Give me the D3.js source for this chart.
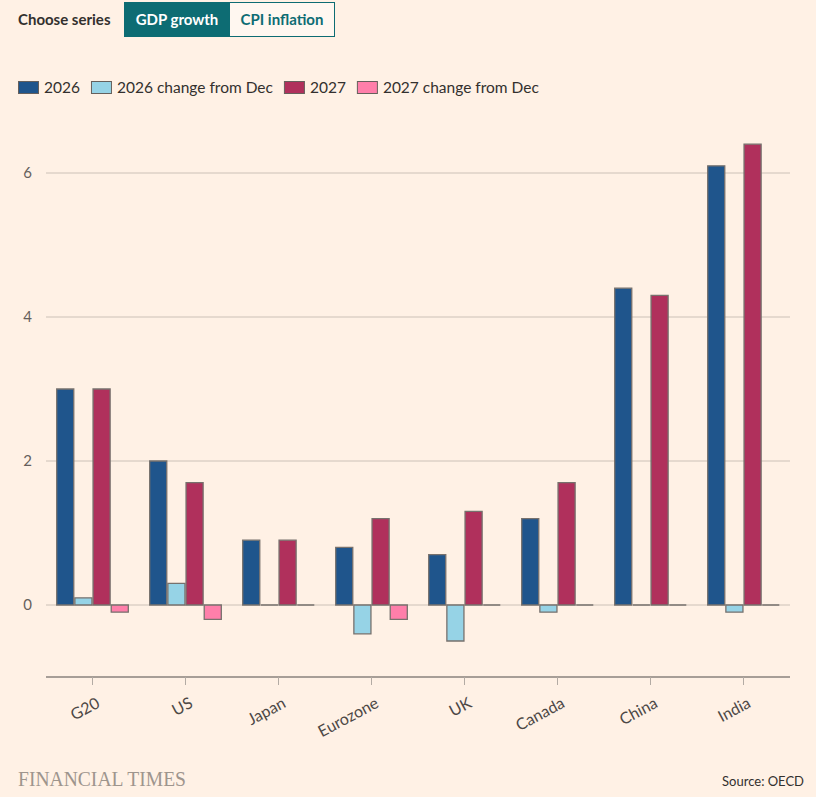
<!DOCTYPE html>
<html>
<head>
<meta charset="utf-8">
<script src="https://cdn.jsdelivr.net/npm/d3@7"></script>
<style>
  body { margin: 0; background: #fff1e5; }
  svg { display: block; font-family: Lato, "Noto Sans", sans-serif; }
</style>
</head>
<body>
<div id="chart"></div>
<script>
// data
var countries = ['G20', 'US', 'Japan', 'Eurozone', 'UK', 'Canada', 'China', 'India']
var seriesNames = ['2026', '2026 change from Dec', '2027', '2027 change from Dec']
var gdp2026 = [3.0, 2.0, 0.9, 0.8, 0.7, 1.2, 4.4, 6.1]
var change2026 = [0.1, 0.3, 0.0, -0.4, -0.5, -0.1, 0.0, -0.1]
var gdp2027 = [3.0, 1.7, 0.9, 1.2, 1.3, 1.7, 4.3, 6.4]
var change2027 = [-0.1, -0.2, 0.0, -0.2, 0.0, 0.0, 0.0, 0.0]
var yTicks = [0, 2, 4, 6]
var buttons = ['GDP growth', 'CPI inflation']

var colours = ['#1f558c', '#96d3e6', '#b0305c', '#ff7faa']
var allSeries = [gdp2026, change2026, gdp2027, change2027]

var W = 816, H = 797
var svg = d3.select('#chart').append('svg')
    .attr('width', W)
    .attr('height', H)

svg.append('rect').attr('width', W).attr('height', H).attr('fill', '#fff1e5')

// series switch
svg.append('text')
    .attr('x', 18).attr('y', 25)
    .attr('font-size', 15).attr('font-weight', 700)
    .attr('fill', '#33302e')
    .text('Choose series')

var btn = svg.selectAll('g.btn').data(buttons).enter().append('g')
    .attr('transform', (d, i) => 'translate(' + (124 + i * 105) + ',2)')
btn.append('rect')
    .attr('x', 0.5).attr('y', 0.5)
    .attr('width', 105).attr('height', 34)
    .attr('fill', (d, i) => i == 0 ? '#0d6c73' : '#fff7f0')
    .attr('stroke', '#0d6c73')
btn.append('text')
    .attr('x', 53).attr('y', 23)
    .attr('text-anchor', 'middle')
    .attr('font-size', 15).attr('font-weight', 700)
    .attr('fill', (d, i) => i == 0 ? '#ffffff' : '#0d6c73')
    .text(d => d)

// legend
var legend = svg.append('g').attr('transform', 'translate(18,80)')
var lx = 0
seriesNames.forEach((name, i) => {
    var g = legend.append('g').attr('transform', 'translate(' + lx + ',0)')
    g.append('rect')
        .attr('x', 0.5).attr('y', 1.5)
        .attr('width', 20).attr('height', 12)
        .attr('fill', colours[i])
        .attr('stroke', '#66605c')
    var t = g.append('text')
        .attr('x', 26).attr('y', 13)
        .attr('font-size', 15.5)
        .attr('fill', '#33302e')
        .text(name)
    lx += 26 + t.node().getComputedTextLength() + 11
})

// scales
var margin = {left: 46, right: 26}
var x0 = d3.scaleBand()
    .domain(countries)
    .range([margin.left, W - margin.right])
    .paddingInner(0.23)
    .paddingOuter(0.115)
var x1 = d3.scaleBand()
    .domain(d3.range(4))
    .range([0, x0.bandwidth()])
    .paddingInner(0.06)
var y = d3.scaleLinear()
    .domain([-1, 6.4])
    .range([677, 144.2])

// grid
svg.append('g').selectAll('line').data(yTicks).enter().append('line')
    .attr('x1', margin.left).attr('x2', W - margin.right)
    .attr('y1', d => y(d)).attr('y2', d => y(d))
    .attr('stroke', '#ccc1b7')
svg.append('g').selectAll('text').data(yTicks).enter().append('text')
    .attr('x', 32).attr('y', d => y(d) + 5)
    .attr('text-anchor', 'end')
    .attr('font-size', 15)
    .attr('fill', '#66605c')
    .text(d => d)

// bars (paths so zero values still show their outline)
var groups = svg.append('g').selectAll('g').data(countries).enter().append('g')
    .attr('transform', d => 'translate(' + x0(d) + ',0)')
groups.selectAll('path')
    .data((d, ci) => allSeries.map((s, si) => ({si: si, v: s[ci]})))
    .enter().append('path')
    .attr('d', d => {
        var bx = x1(d.si), bw = x1.bandwidth()
        var top = y(Math.max(0, d.v)), bh = Math.abs(y(d.v) - y(0))
        return 'M' + bx + ',' + top + 'h' + bw + 'v' + bh + 'h' + (-bw) + 'Z'
    })
    .attr('fill', d => colours[d.si])
    .attr('stroke', '#77716d')
    .attr('stroke-width', 1.3)

// x axis
var xAxis = d3.axisBottom(x0).tickSize(8).tickSizeOuter(0)
var gx = svg.append('g')
    .attr('transform', 'translate(0,677)')
    .call(xAxis)
gx.select('.domain').attr('stroke', '#8a827c').attr('stroke-width', 1.3)
    .attr('d', 'M' + margin.left + ',0H' + (W - margin.right))
gx.selectAll('.tick line').attr('stroke', '#b3aba4')
gx.selectAll('.tick text')
    .attr('font-family', 'Lato, "Noto Sans", sans-serif')
    .attr('font-size', 16)
    .attr('fill', '#4d4845')
    .attr('text-anchor', 'end')
    .attr('dx', '-6.5px')
    .attr('dy', '19px')
    .attr('transform', 'rotate(-28)')

// footer
svg.append('text')
    .attr('x', 18).attr('y', 786)
    .attr('font-family', '"Liberation Serif", "DejaVu Serif", serif')
    .attr('font-size', 22)
    .attr('fill', '#9e958d')
    .attr('textLength', 168)
    .attr('lengthAdjust', 'spacingAndGlyphs')
    .text('FINANCIAL TIMES')
svg.append('text')
    .attr('x', W - 12).attr('y', 786)
    .attr('text-anchor', 'end')
    .attr('font-size', 13)
    .attr('fill', '#33302e')
    .text('Source: OECD')
</script>
</body>
</html>
